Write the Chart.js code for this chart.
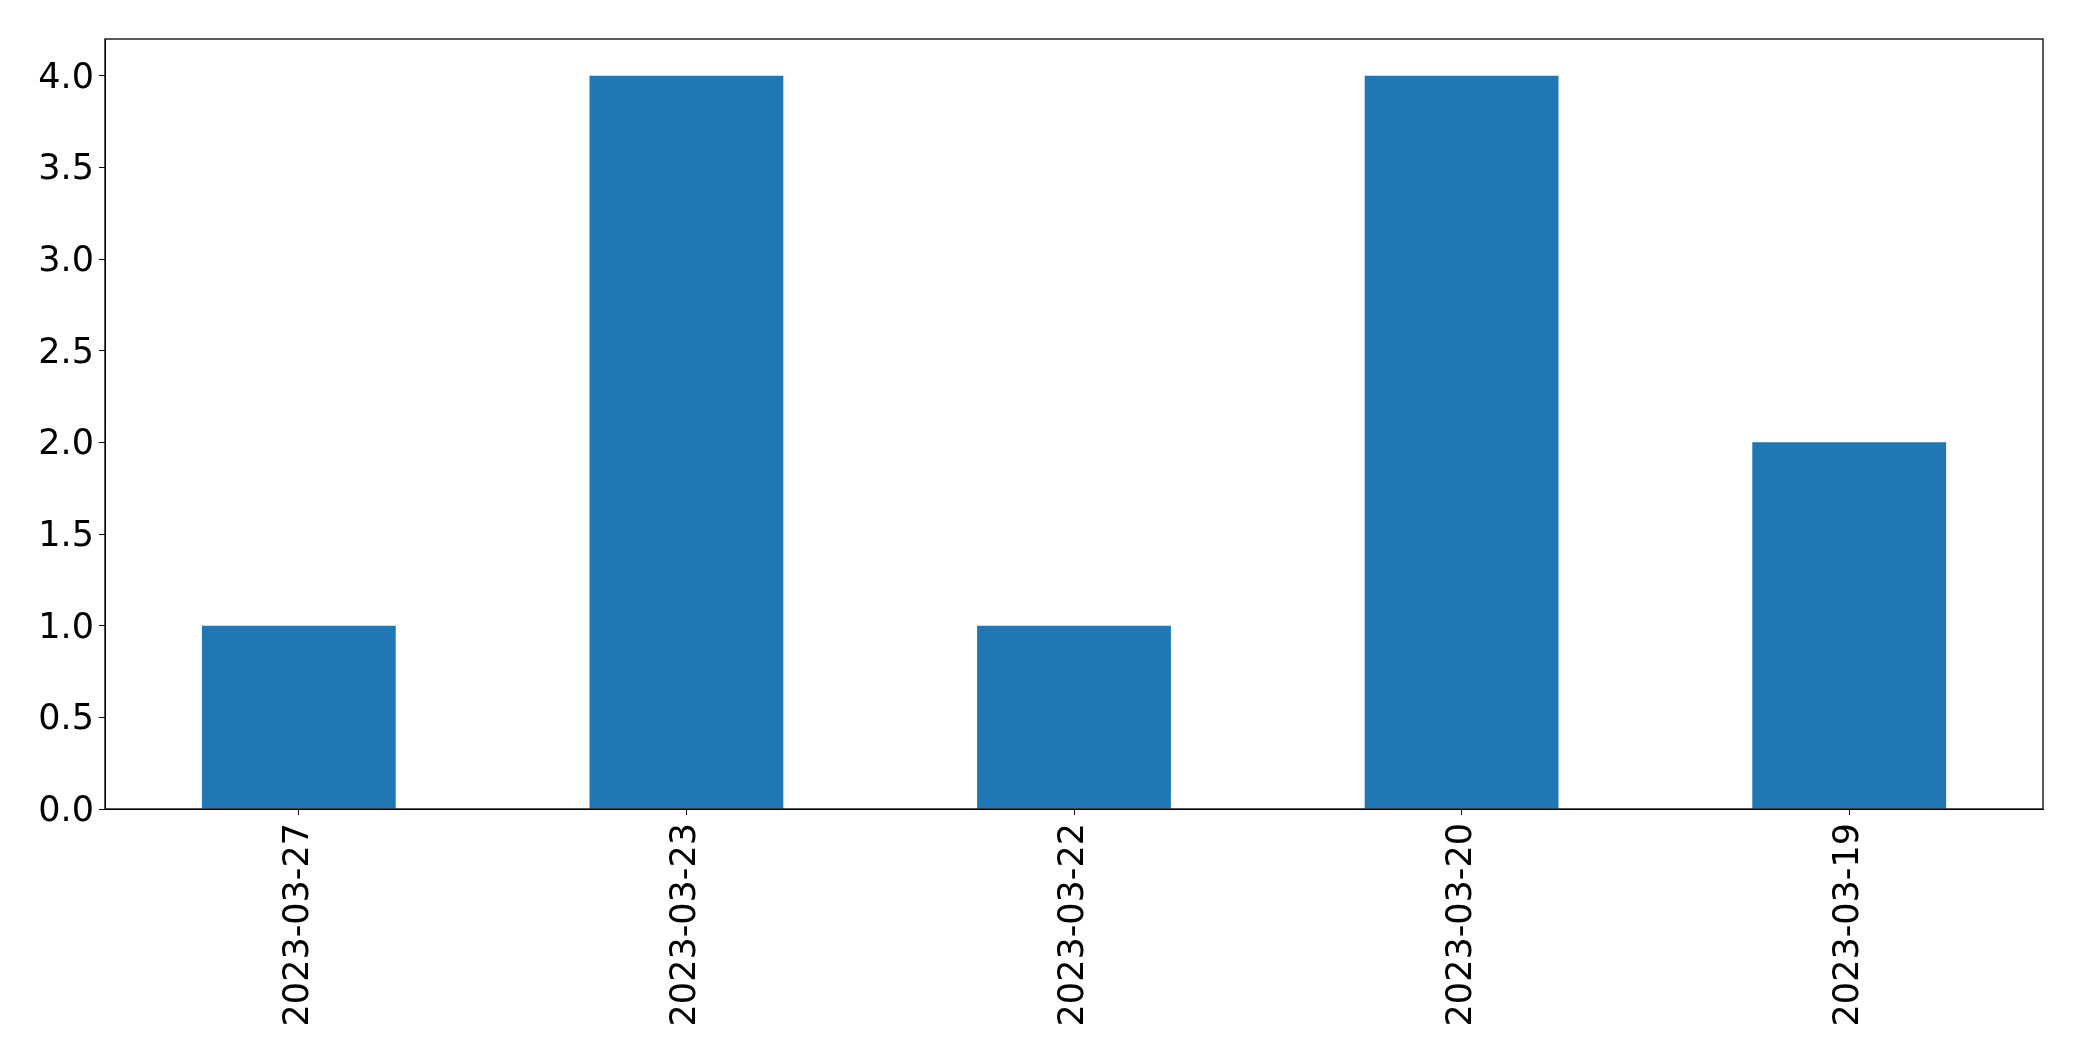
<!DOCTYPE html>
<html>
<head>
<meta charset="utf-8">
<script src="https://cdn.jsdelivr.net/npm/chart.js@4/dist/chart.umd.min.js"></script>
<style>
  html, body { margin: 0; padding: 0; background: #fff; }
  #wrap { width: 2082px; height: 1061px; }
</style>
</head>
<body>
<div id="wrap"><canvas id="chart" width="2082" height="1061"></canvas></div>
<script>
// datos
const categories = ['2023-03-27', '2023-03-23', '2023-03-22', '2023-03-20', '2023-03-19'];
const counts = [1, 4, 1, 4, 2];
const yMax = 4.2;
const yStep = 0.5;

const FONT = { family: 'DejaVu Sans', size: 35 };

// borde negro alrededor del area del grafico
const frameBox = {
    id: 'frameBox',
    afterDraw(chart) {
        const { ctx, chartArea: a } = chart;
        ctx.save();
        ctx.strokeStyle = '#000';
        ctx.lineWidth = 1.3;
        ctx.strokeRect(a.left, a.top, a.right - a.left, a.bottom - a.top);
        ctx.restore();
    }
};

new Chart(document.getElementById('chart'), {
    type: 'bar',
    data: {
        labels: categories,
        datasets: [{
            data: counts,
            backgroundColor: '#1f77b4',
            barPercentage: 0.5,
            categoryPercentage: 1.0
        }]
    },
    options: {
        responsive: false,
        animation: false,
        layout: { padding: { left: 0, right: 39, top: 39, bottom: 0 } },
        plugins: { legend: { display: false }, tooltip: { enabled: false } },
        scales: {
            x: {
                offset: true,
                grid: { display: true, drawOnChartArea: false, drawTicks: true, tickLength: 6, color: '#000', offset: false },
                border: { display: true, color: '#000' },
                ticks: { color: '#000', font: FONT, minRotation: 90, maxRotation: 90, padding: 8, autoSkip: false },
                afterFit(scale) { scale.height = 252; }
            },
            y: {
                min: 0,
                max: yMax,
                grid: { display: true, drawOnChartArea: false, drawTicks: true, tickLength: 6, color: '#000' },
                border: { display: true, color: '#000' },
                ticks: {
                    stepSize: yStep,
                    includeBounds: false,
                    color: '#000',
                    font: FONT,
                    padding: 5,
                    labelOffset: 3,
                    callback: v => v.toFixed(1)
                },
                afterFit(scale) { scale.width = 105; }
            }
        }
    },
    plugins: [frameBox]
});
</script>
</body>
</html>
